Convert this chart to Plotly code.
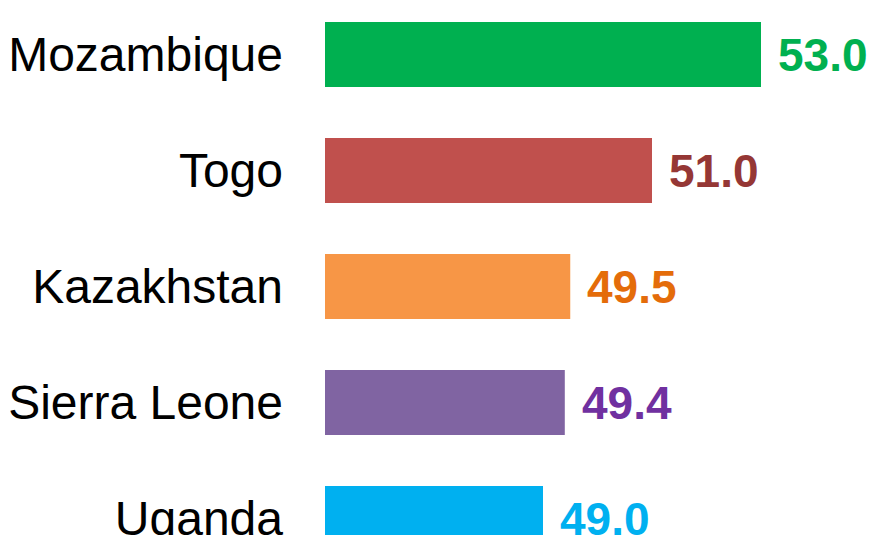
import plotly.graph_objects as go

countries = ["Mozambique", "Togo", "Kazakhstan", "Sierra Leone", "Uganda"]
values = [53.0, 51.0, 49.5, 49.4, 49.0]
bar_colors = ["#00B050", "#C0504D", "#F79646", "#8064A2", "#00B0F0"]
label_colors = ["#00B050", "#953735", "#E46C0A", "#7030A0", "#00B0F0"]

FONT = "Liberation Sans, Arial, Helvetica, sans-serif"

fig = go.Figure()
fig.add_trace(go.Bar(
    y=countries,
    x=values,
    orientation="h",
    marker=dict(color=bar_colors, line=dict(width=0)),
    width=0.56,
    hoverinfo="skip",
))

for c, v, col in zip(countries, values, label_colors):
    fig.add_annotation(
        x=v, y=c, xref="x", yref="y",
        text=f"<b>{v:.1f}</b>", showarrow=False,
        xanchor="left", yanchor="middle", xshift=15,
        font=dict(family=FONT, size=46, color=col),
    )

fig.update_layout(
    width=867, height=527,
    margin=dict(l=317, r=5, t=0, b=0, autoexpand=False),
    paper_bgcolor="white", plot_bgcolor="white",
    showlegend=False,
    font=dict(family=FONT, color="black"),
    xaxis=dict(range=[45, 55], visible=False, fixedrange=True),
    yaxis=dict(
        categoryorder="array", categoryarray=countries,
        range=[4.142, -0.401],
        showgrid=False, zeroline=False, showline=False,
        ticks="", ticklabelstandoff=41,
        tickfont=dict(size=48, color="black"),
        fixedrange=True,
    ),
)

fig.write_html("out.html")
